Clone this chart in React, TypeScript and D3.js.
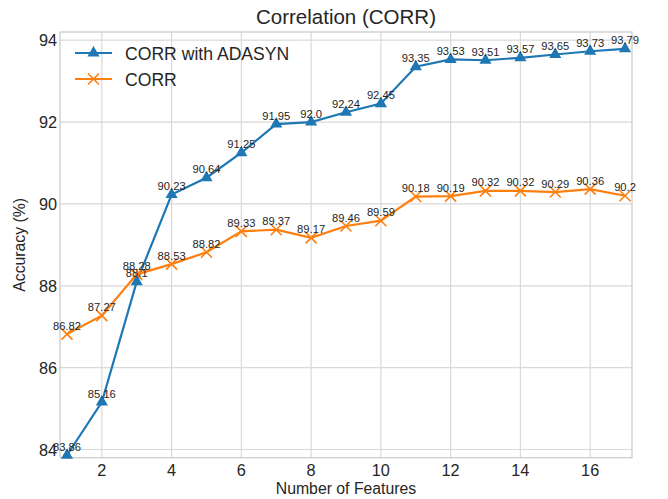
import React from "react";
import * as d3 from "d3";

const features = [1, 2, 3, 4, 5, 6, 7, 8, 9, 10, 11, 12, 13, 14, 15, 16, 17];
const adasyn = [83.86, 85.16, 88.1, 90.23, 90.64, 91.25, 91.95, 92.0, 92.24, 92.45, 93.35, 93.53, 93.51, 93.57, 93.65, 93.73, 93.79];
const corr = [86.82, 87.27, 88.28, 88.53, 88.82, 89.33, 89.37, 89.17, 89.46, 89.59, 90.18, 90.19, 90.32, 90.32, 90.29, 90.36, 90.2];
const xTicks = [2, 4, 6, 8, 10, 12, 14, 16];
const yTicks = [84, 86, 88, 90, 92, 94];
const seriesNames = ["CORR with ADASYN", "CORR"];

const W = 668, H = 499;
const L = 60, R = 632, T = 32, B = 457.7;
const FONT = "'Liberation Sans', Arial, Helvetica, sans-serif";
const BLUE = "#1f77b4", ORANGE = "#ff7f0e";
const TXT = "#262626";

export default function App() {
  const x = d3.scaleLinear().domain([0.8, 17.2]).range([L, R]);
  const y = d3.scaleLinear().domain([83.8, 94.2]).range([B, T]);
  const line = d3.line<number>().x((_, i) => x(features[i])).y((v) => y(v));
  const tri = d3.symbol().type(d3.symbolTriangle).size(64)();

  const xMark = (cx: number, cy: number, key: string) => (
    <path key={key} d={`M${cx - 5.5},${cy - 5.5}L${cx + 5.5},${cy + 5.5}M${cx - 5.5},${cy + 5.5}L${cx + 5.5},${cy - 5.5}`} stroke={ORANGE} strokeWidth={1.6} fill="none" />
  );
  const fmt = (v: number) => (Number.isInteger(v) ? v.toFixed(1) : String(v));

  return (
    <svg width={W} height={H} style={{ position: "absolute", left: 0, top: 0, background: "#fff" }} fontFamily={FONT}>
      <rect x={0} y={0} width={W} height={H} fill="#fff" />
      {xTicks.map((t) => (
        <line key={"gx" + t} x1={x(t)} x2={x(t)} y1={T} y2={B} stroke="#d9d9d9" strokeWidth={1.2} />
      ))}
      {yTicks.map((t) => (
        <line key={"gy" + t} x1={L} x2={R} y1={y(t)} y2={y(t)} stroke="#d9d9d9" strokeWidth={1.2} />
      ))}
      <rect x={L} y={T} width={R - L} height={B - T} fill="none" stroke="#cccccc" strokeWidth={1.3} />

      {xTicks.map((t) => (
        <text key={"tx" + t} x={x(t)} y={B + 18.5} textAnchor="middle" fontSize={16.3} fill={TXT}>{t}</text>
      ))}
      {yTicks.map((t) => (
        <text key={"ty" + t} x={L - 3} y={y(t) + 6} textAnchor="end" fontSize={16.3} fill={TXT}>{t}</text>
      ))}

      <text x={(L + R) / 2} y={24} textAnchor="middle" fontSize={20.5} fill={TXT}>Correlation (CORR)</text>
      <text x={(L + R) / 2} y={494} textAnchor="middle" fontSize={15.8} fill={TXT}>Number of Features</text>
      <text transform={`translate(25,${(T + B) / 2}) rotate(-90)`} textAnchor="middle" fontSize={15.8} fill={TXT}>Accuracy (%)</text>

      <path d={line(adasyn) || ""} fill="none" stroke={BLUE} strokeWidth={2.2} />
      <path d={line(corr) || ""} fill="none" stroke={ORANGE} strokeWidth={2.2} />
      {adasyn.map((v, i) => (
        <path key={"ta" + i} d={tri || ""} transform={`translate(${x(features[i])},${y(v)})`} fill={BLUE} />
      ))}
      {corr.map((v, i) => xMark(x(features[i]), y(v), "xc" + i))}

      {adasyn.map((v, i) => (
        <text key={"la" + i} x={x(features[i])} y={y(v) - 4.5} textAnchor="middle" fontSize={11.2} fill={TXT}>{fmt(v)}</text>
      ))}
      {corr.map((v, i) => (
        <text key={"lc" + i} x={x(features[i])} y={y(v) - 4.5} textAnchor="middle" fontSize={11.2} fill={TXT}>{fmt(v)}</text>
      ))}

      <g>
        <line x1={75} x2={112} y1={53} y2={53} stroke={BLUE} strokeWidth={2.2} />
        <path d={tri || ""} transform="translate(93.5,53)" fill={BLUE} />
        <text x={125} y={59.5} fontSize={17.6} fill={TXT}>{seriesNames[0]}</text>
        <line x1={75} x2={112} y1={79} y2={79} stroke={ORANGE} strokeWidth={2.2} />
        {xMark(93.5, 79, "legx")}
        <text x={125} y={85.5} fontSize={17.6} fill={TXT}>{seriesNames[1]}</text>
      </g>
    </svg>
  );
}
